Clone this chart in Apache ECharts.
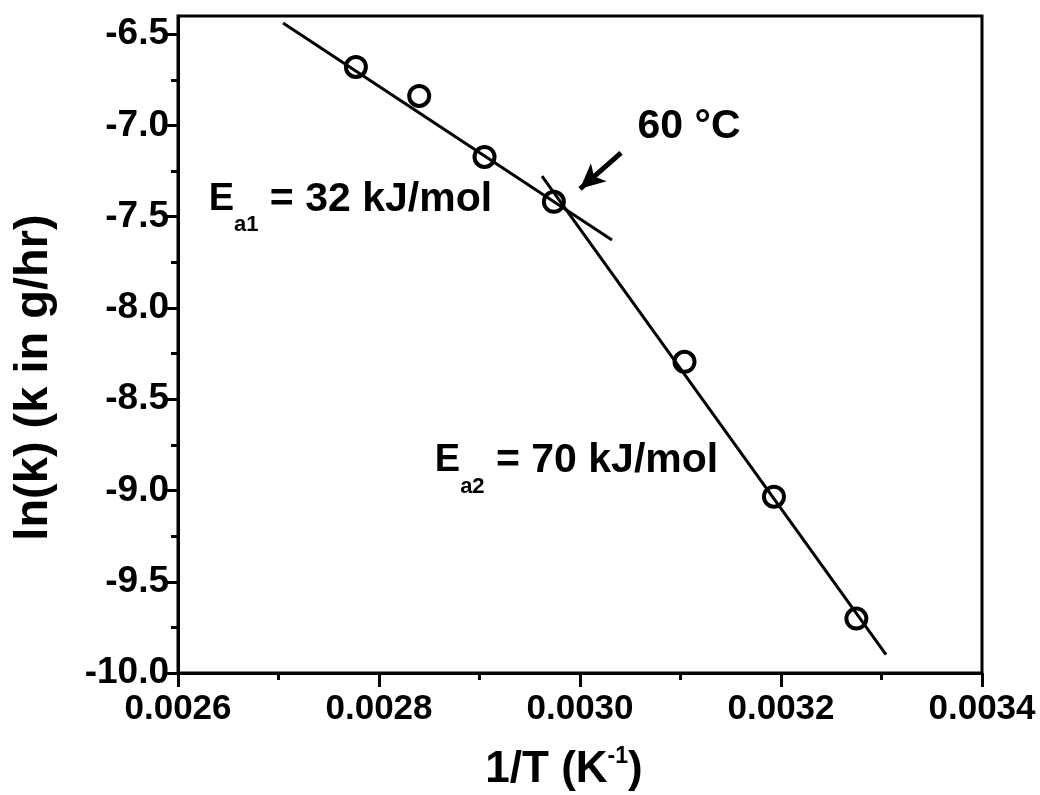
<!DOCTYPE html>
<html>
<head>
<meta charset="utf-8">
<script src="https://cdn.jsdelivr.net/npm/echarts@6/dist/echarts.min.js"></script>
<style>
  html, body { margin: 0; padding: 0; background: #fff; }
  #chart { width: 1040px; height: 795px; }
</style>
</head>
<body>
<div id="chart"></div>
<script>
// ---- data ----
const xMajor = [0.0026, 0.0028, 0.0030, 0.0032, 0.0034];
const xMinor = [0.0027, 0.0029, 0.0031, 0.0033];
const yMajor = [-10.0, -9.5, -9.0, -8.5, -8.0, -7.5, -7.0, -6.5];
const yMinor = [-9.75, -9.25, -8.75, -8.25, -7.75, -7.25, -6.75];

const invT = [0.002777, 0.002840, 0.002905, 0.002974, 0.003104, 0.003193, 0.003275];
const lnK  = [-6.679, -6.838, -7.172, -7.418, -8.295, -9.034, -9.702];

const fit1X = [0.0027045, 0.0030318];
const fit1Y = [-6.438, -7.627];
const fit2X = [0.0029622, 0.0033045];
const fit2Y = [-7.277, -9.899];

const arrowFrom = [0.0030408, -7.150];
const arrowTo   = [0.0030000, -7.347];

const noteText = ['{E|E}{sub|a1}{t| = 32 kJ/mol}', '{E|E}{sub|a2}{t| = 70 kJ/mol}', '{c|60 °C}'];
const noteX = [0.002631, 0.002856, 0.0030577];
const noteY = [-7.407, -8.840, -7.008];

// ---- chart ----
const FONT = "'Liberation Sans', Arial, sans-serif";
const chart = echarts.init(document.getElementById('chart'), null, { renderer: 'canvas' });

const gridRect = { left: 178, right: 58, top: 16, bottom: 122 };
const xMin = 0.0026, xMax = 0.0034, yMin = -10.0, yMax = -6.4;

const pts = invT.map((x, i) => [x, lnK[i]]);
const notes = noteText.map((t, i) => ({ value: [noteX[i], noteY[i]], label: { formatter: t } }));

const option = {
  backgroundColor: '#fff',
  animation: false,
  grid: [
    Object.assign({ show: true, borderColor: '#000', borderWidth: 3, backgroundColor: 'transparent',
      containLabel: false, outerBoundsMode: 'none' }, gridRect),
    Object.assign({ show: false, containLabel: false, outerBoundsMode: 'none' }, gridRect)
  ],
  xAxis: [
    {
      type: 'value', gridIndex: 0, min: xMin, max: xMax, position: 'bottom',
      axisLine: { show: true, lineStyle: { color: '#000', width: 3 } },
      axisTick: { show: true, customValues: xMajor, length: 14, inside: false, lineStyle: { color: '#000', width: 3 } },
      axisLabel: { show: true, customValues: xMajor, formatter: v => v.toFixed(4), color: '#000',
        fontFamily: FONT, fontWeight: 'bold', fontSize: 35, margin: 19 },
      splitLine: { show: false },
      name: '1/T (K{sup|-1})', nameLocation: 'middle', nameGap: 72,
      nameTextStyle: { color: '#000', fontFamily: FONT, fontWeight: 'bold', fontSize: 44, lineHeight: 50,
        padding: [0, 32, 0, 0],
        rich: { sup: { fontSize: 23, fontFamily: FONT, fontWeight: 'bold', color: '#000', verticalAlign: 'top', lineHeight: 23 } } }
    },
    {
      type: 'value', gridIndex: 1, min: xMin, max: xMax, position: 'bottom',
      axisLine: { show: false },
      axisTick: { show: true, customValues: xMinor, length: 7, inside: false, lineStyle: { color: '#000', width: 3 } },
      axisLabel: { show: false }, splitLine: { show: false }
    }
  ],
  yAxis: [
    {
      type: 'value', gridIndex: 0, min: yMin, max: yMax, position: 'left',
      axisLine: { show: true, lineStyle: { color: '#000', width: 3 } },
      axisTick: { show: true, customValues: yMajor, length: 14, inside: false, lineStyle: { color: '#000', width: 3 } },
      axisLabel: { show: true, customValues: yMajor, formatter: v => v.toFixed(1), color: '#000',
        fontFamily: FONT, fontWeight: 'bold', fontSize: 37, margin: 9 },
      splitLine: { show: false },
      name: 'ln(k) (k in g/hr)', nameLocation: 'middle', nameGap: 120, nameRotate: 90,
      nameTextStyle: { color: '#000', fontFamily: FONT, fontWeight: 'bold', fontSize: 47, padding: [0, 66, 0, 0] }
    },
    {
      type: 'value', gridIndex: 1, min: yMin, max: yMax, position: 'left',
      axisLine: { show: false },
      axisTick: { show: true, customValues: yMinor, length: 7, inside: false, lineStyle: { color: '#000', width: 3 } },
      axisLabel: { show: false }, splitLine: { show: false }
    }
  ],
  series: [
    {
      name: 'fit1', type: 'line', xAxisIndex: 0, yAxisIndex: 0, silent: true,
      data: fit1X.map((x, i) => [x, fit1Y[i]]), showSymbol: false, symbol: 'none',
      lineStyle: { color: '#000', width: 3 }, z: 2
    },
    {
      name: 'fit2', type: 'line', xAxisIndex: 0, yAxisIndex: 0, silent: true,
      data: fit2X.map((x, i) => [x, fit2Y[i]]), showSymbol: false, symbol: 'none',
      lineStyle: { color: '#000', width: 3 }, z: 2
    },
    {
      name: 'data', type: 'scatter', xAxisIndex: 0, yAxisIndex: 0, silent: true,
      data: pts, symbol: 'circle', symbolSize: 20,
      itemStyle: { color: 'rgba(0,0,0,0)', borderColor: '#000', borderWidth: 4, opacity: 1 }, z: 3
    },
    {
      name: 'arrow', type: 'line', xAxisIndex: 0, yAxisIndex: 0, silent: true, data: [],
      markLine: {
        silent: true, animation: false,
        symbol: ['none', 'arrow'], symbolSize: [18, 25],
        label: { show: false },
        lineStyle: { color: '#000', width: 5, type: 'solid', opacity: 1 },
        emphasis: { disabled: true },
        data: [[{ coord: arrowFrom }, { coord: arrowTo }]]
      }
    },
    {
      name: 'notes', type: 'scatter', xAxisIndex: 0, yAxisIndex: 0, silent: true,
      data: notes, symbolSize: 1, itemStyle: { color: 'rgba(0,0,0,0)', opacity: 1 },
      label: {
        show: true, position: [0, 0], align: 'left', verticalAlign: 'middle', color: '#000',
        rich: {
          E: { fontFamily: FONT, fontWeight: 'bold', fontSize: 38, lineHeight: 74, color: '#000' },
          t: { fontFamily: FONT, fontWeight: 'bold', fontSize: 41, lineHeight: 74, color: '#000' },
          sub: { fontFamily: FONT, fontWeight: 'bold', fontSize: 22, lineHeight: 22, verticalAlign: 'bottom', color: '#000' },
          c: { fontFamily: FONT, fontWeight: 'bold', fontSize: 41, lineHeight: 44, color: '#000' }
        }
      },
      z: 4
    }
  ]
};
chart.setOption(option);
</script>
</body>
</html>
